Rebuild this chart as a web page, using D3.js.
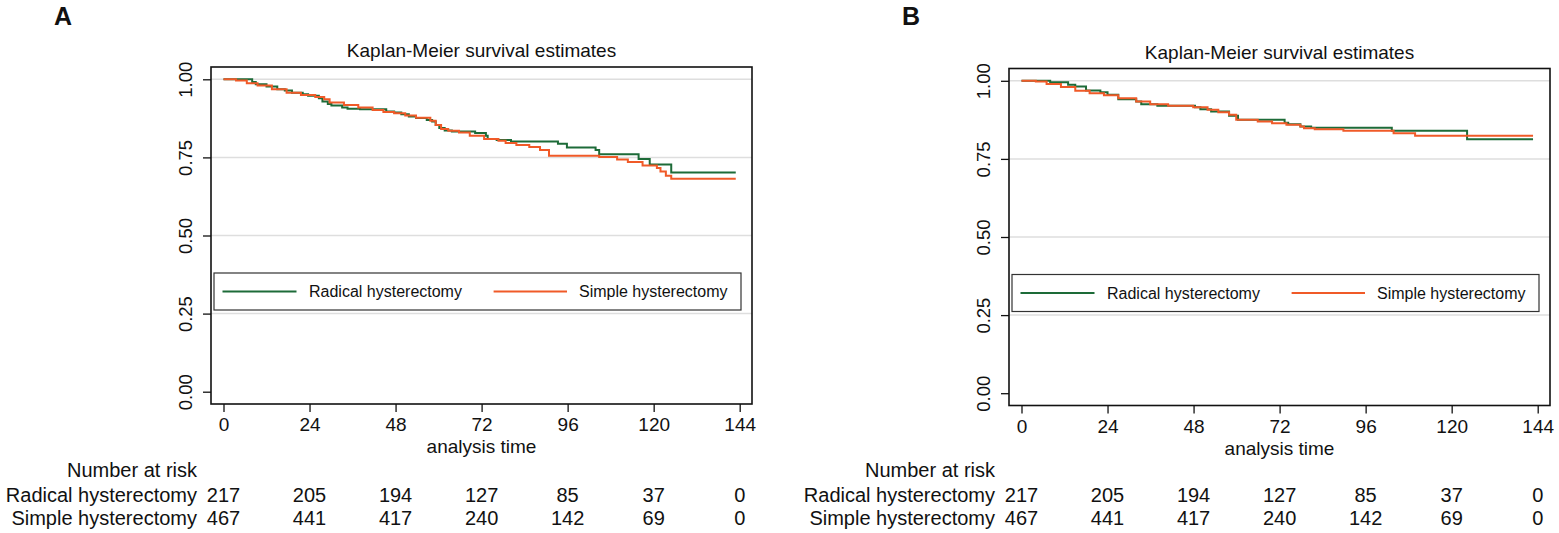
<!DOCTYPE html>
<html>
<head>
<meta charset="utf-8">
<script src="https://cdn.jsdelivr.net/npm/d3@7"></script>
<style>
  body { margin: 0; background: #fff; }
  text { font-family: "Liberation Sans", Arial, sans-serif; fill: #111; }
</style>
</head>
<body>
<div id="chart"></div>
<script>
// data (months, survival probability)
var groups = ["Radical hysterectomy", "Simple hysterectomy"];
var xTicks = [0, 24, 48, 72, 96, 120, 144];
var yTicks = [0, 0.25, 0.5, 0.75, 1];

// panel A
var radicalA_t = [0, 8.0, 9.0, 12.0, 15.0, 17.1, 19.1, 22.1, 23.6, 26.6, 27.6, 29.1, 30.1, 33.1, 34.6, 38.1, 45.4, 47.6, 49.6, 51.7, 53.7, 56.7, 58.2, 59.2, 60.2, 61.7, 63.7, 70.2, 73.2, 73.7, 76.2, 80.2, 93.3, 95.8, 103.8, 104.8, 115.8, 118.9, 124.9, 142.9];
var radicalA_s = [1, 0.991, 0.984, 0.977, 0.968, 0.964, 0.957, 0.952, 0.947, 0.939, 0.929, 0.921, 0.916, 0.910, 0.906, 0.904, 0.897, 0.894, 0.888, 0.881, 0.876, 0.870, 0.865, 0.854, 0.844, 0.836, 0.833, 0.828, 0.819, 0.809, 0.806, 0.801, 0.794, 0.782, 0.774, 0.760, 0.745, 0.727, 0.702, 0.702];
var simpleA_t = [0, 3.5, 6.5, 9.5, 13.5, 17.6, 21.6, 25.6, 28.1, 29.6, 33.6, 37.6, 41.6, 44.6, 47.6, 50.7, 53.7, 57.7, 59.2, 60.7, 62.7, 65.7, 68.7, 72.7, 76.7, 78.7, 81.7, 85.3, 88.3, 90.8, 104.8, 109.8, 112.8, 116.9, 120.9, 121.9, 123.4, 124.9, 142.9];
var simpleA_s = [1, 0.996, 0.987, 0.980, 0.968, 0.957, 0.950, 0.943, 0.936, 0.926, 0.918, 0.910, 0.902, 0.895, 0.891, 0.884, 0.877, 0.867, 0.854, 0.841, 0.835, 0.830, 0.819, 0.809, 0.803, 0.796, 0.790, 0.783, 0.774, 0.755, 0.751, 0.743, 0.735, 0.724, 0.716, 0.705, 0.691, 0.682, 0.682];

// panel B
var radicalB_t = [0, 8.0, 13.0, 15.0, 18.0, 22.0, 24.0, 27.0, 32.0, 33.4, 37.9, 48.4, 49.9, 52.9, 57.9, 60.4, 73.4, 74.4, 77.8, 80.8, 103.3, 124.3, 142.7];
var radicalB_s = [1, 0.995, 0.987, 0.982, 0.969, 0.963, 0.955, 0.941, 0.934, 0.925, 0.920, 0.915, 0.909, 0.902, 0.888, 0.875, 0.866, 0.861, 0.854, 0.850, 0.840, 0.813, 0.813];
var simpleB_t = [0, 4.0, 7.0, 11.0, 15.0, 19.0, 23.0, 27.0, 32.0, 35.9, 40.9, 47.9, 51.9, 54.9, 57.9, 59.9, 65.9, 69.9, 73.9, 77.8, 78.8, 81.8, 89.8, 103.8, 109.8, 142.7];
var simpleB_s = [1, 0.998, 0.990, 0.980, 0.968, 0.960, 0.954, 0.944, 0.934, 0.925, 0.920, 0.915, 0.907, 0.899, 0.891, 0.875, 0.870, 0.864, 0.859, 0.854, 0.848, 0.845, 0.840, 0.832, 0.824, 0.824];

// number at risk (same in both panels)
var riskRadical = [217, 205, 194, 127, 85, 37, 0];
var riskSimple = [467, 441, 417, 240, 142, 69, 0];

var colors = ["#1d6b38", "#f05a28"];

var svgWidth = 1559, svgHeight = 533;
var svg = d3.select("#chart").append("svg")
  .attr("width", svgWidth)
  .attr("height", svgHeight);

function zip(t, s) {
  return t.map(function (d, i) { return [d, s[i]]; });
}

function drawPanel(p) {
  var g = svg.append("g").attr("transform", "translate(" + p.dx + "," + p.dy + ")");

  var frame = { left: 211, right: 752, top: 67, bottom: 404 };
  var x = d3.scaleLinear().domain([0, 144]).range([223.5, 739.7]);
  var y = d3.scaleLinear().domain([0, 1]).range([391.7, 79.3]);

  // panel letter
  g.append("text")
    .attr("x", p.letterX).attr("y", 25 - p.dy)
    .attr("font-size", "25px").attr("font-weight", "bold")
    .text(p.letter);

  g.append("text")
    .attr("x", (frame.left + frame.right) / 2)
    .attr("y", 57)
    .attr("text-anchor", "middle")
    .attr("font-size", "19px")
    .text("Kaplan-Meier survival estimates");

  // gridlines
  g.selectAll(".grid").data(yTicks.filter(function (d) { return d > 0; }))
    .enter().append("line")
    .attr("x1", frame.left).attr("x2", frame.right)
    .attr("y1", function (d) { return y(d); })
    .attr("y2", function (d) { return y(d); })
    .attr("stroke", "#dedede").attr("stroke-width", 1.5);

  // axes
  var yAxis = g.append("g")
    .attr("transform", "translate(" + frame.left + ",0)")
    .call(d3.axisLeft(y).tickValues(yTicks).tickFormat(d3.format(".2f")).tickSize(8).tickPadding(0));
  yAxis.select(".domain").remove();
  yAxis.selectAll(".tick line").attr("stroke", "#111").attr("stroke-width", 1.3);
  yAxis.selectAll(".tick text")
    .attr("font-size", "18.5px")
    .attr("font-family", null)
    .attr("x", null)
    .attr("text-anchor", "middle")
    .attr("transform", "translate(-25,0) rotate(-90)")
    .attr("y", 0)
    .attr("dy", "0.35em");

  var xAxis = g.append("g")
    .attr("transform", "translate(0," + frame.bottom + ")")
    .call(d3.axisBottom(x).tickValues(xTicks).tickSize(8).tickPadding(6));
  xAxis.select(".domain").remove();
  xAxis.selectAll(".tick line").attr("stroke", "#111").attr("stroke-width", 1.3);
  xAxis.selectAll(".tick text").attr("font-size", "19px").attr("font-family", null);

  g.append("text")
    .attr("x", (frame.left + frame.right) / 2)
    .attr("y", 453)
    .attr("text-anchor", "middle")
    .attr("font-size", "19px")
    .text("analysis time");

  // curves
  var line = d3.line()
    .x(function (d) { return x(d[0]); })
    .y(function (d) { return y(d[1]); })
    .curve(d3.curveStepAfter);

  p.series.forEach(function (s, i) {
    g.append("path")
      .datum(s)
      .attr("fill", "none")
      .attr("stroke", colors[i])
      .attr("stroke-width", 2)
      .attr("d", line);
  });

  // frame
  g.append("rect")
    .attr("x", frame.left).attr("y", frame.top)
    .attr("width", frame.right - frame.left)
    .attr("height", frame.bottom - frame.top)
    .attr("fill", "none").attr("stroke", "#111").attr("stroke-width", 1.6);

  // legend
  var leg = g.append("g");
  leg.append("rect")
    .attr("x", 214).attr("y", 273).attr("width", 527).attr("height", 37)
    .attr("fill", "#fff").attr("stroke", "#333").attr("stroke-width", 1.2);
  var legX = [[222.5, 296.5, 309], [493.6, 567, 579]];
  groups.forEach(function (name, i) {
    leg.append("line")
      .attr("x1", legX[i][0]).attr("x2", legX[i][1])
      .attr("y1", 291.5).attr("y2", 291.5)
      .attr("stroke", colors[i]).attr("stroke-width", 2);
    leg.append("text")
      .attr("x", legX[i][2]).attr("y", 297)
      .attr("font-size", "16px")
      .text(name);
  });

  // number at risk table
  var tbl = svg.append("g").attr("transform", "translate(" + p.dx + ",0)");
  tbl.append("text")
    .attr("x", 197).attr("y", 477)
    .attr("text-anchor", "end").attr("font-size", "20px")
    .text("Number at risk");
  [riskRadical, riskSimple].forEach(function (row, i) {
    var yy = 502 + i * 23;
    tbl.append("text")
      .attr("x", 197).attr("y", yy)
      .attr("text-anchor", "end").attr("font-size", "20px")
      .text(groups[i]);
    tbl.selectAll(".n" + i).data(row).enter().append("text")
      .attr("x", function (d, j) { return x(xTicks[j]); })
      .attr("y", yy)
      .attr("text-anchor", "middle").attr("font-size", "20px")
      .text(function (d) { return d; });
  });
}

drawPanel({
  dx: 0, dy: 0, letter: "A", letterX: 54,
  series: [zip(radicalA_t, radicalA_s), zip(simpleA_t, simpleA_s)]
});
drawPanel({
  dx: 798, dy: 1.5, letter: "B", letterX: 104,
  series: [zip(radicalB_t, radicalB_s), zip(simpleB_t, simpleB_s)]
});
</script>
</body>
</html>
